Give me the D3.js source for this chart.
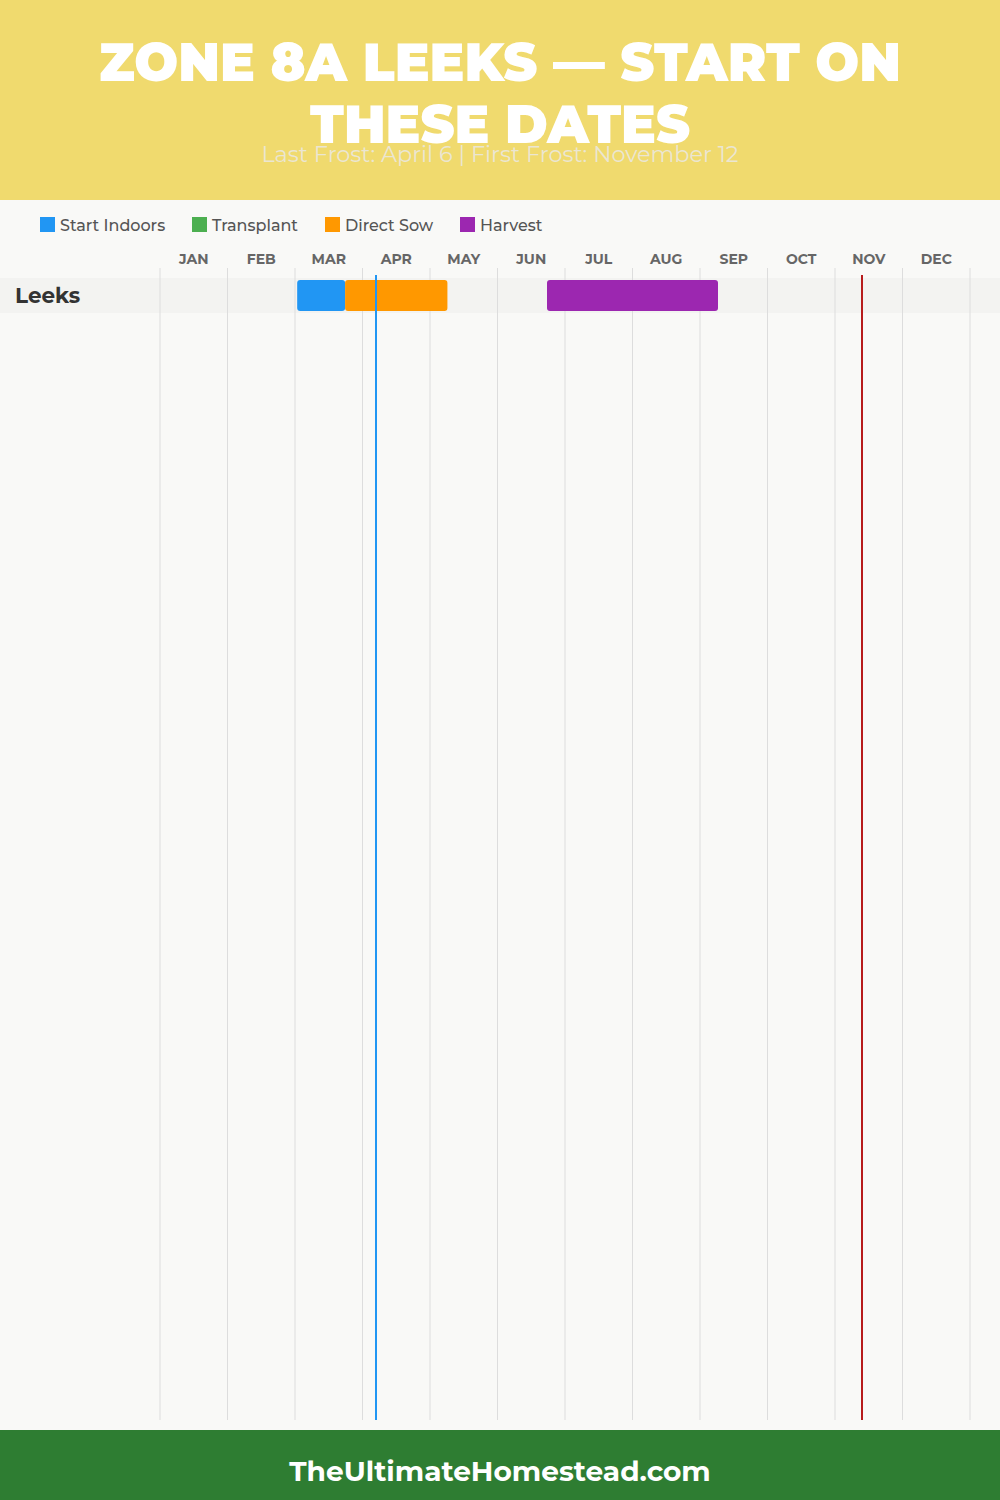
<!DOCTYPE html>
<html><head><meta charset="utf-8">
<script src="https://cdn.jsdelivr.net/npm/d3@7"></script>
<style>body{margin:0;background:#f9f9f7;}svg{display:block;font-family:"Montserrat","Open Sans","Noto Sans",sans-serif;}</style>
</head><body><div id="chart"></div>
<script>
const titleLines = ["ZONE 8A LEEKS — START ON", "THESE DATES"];
const subtitle = "Last Frost: April 6 | First Frost: November 12";
const footer = "TheUltimateHomestead.com";
const months = ["JAN","FEB","MAR","APR","MAY","JUN","JUL","AUG","SEP","OCT","NOV","DEC"];
const legendItems = ["Start Indoors","Transplant","Direct Sow","Harvest"];
const legendColors = ["#2196f3","#4caf50","#ff9800","#9c27b0"];
const crops = ["Leeks"];
// [crop, phase, startMonth(0-based), startDay, endMonth, endDay]
const tasks = [
  ["Leeks","Start Indoors",2,1,2,23],
  ["Leeks","Direct Sow",2,23,4,8],
  ["Leeks","Harvest",5,22,8,8]
];
const frostDates = [{label:"Last Frost",m:3,d:6,color:"#2196f3"},{label:"First Frost",m:10,d:12,color:"#b71c1c"}];

const W=1000,H=1500;
const svg=d3.select("#chart").append("svg").attr("width",W).attr("height",H);
svg.append("rect").attr("width",W).attr("height",H).attr("fill","#f9f9f7");
svg.append("rect").attr("width",W).attr("height",200).attr("fill","#f0da6e");
svg.append("rect").attr("y",1430).attr("width",W).attr("height",70).attr("fill","#2e7d32");

const dim=[31,28,31,30,31,30,31,31,30,31,30,31];
const frac=(m,d)=>m+d/dim[m];
const x=d3.scaleLinear().domain([0,12]).range([160,970]);
const y=d3.scaleBand().domain(crops).range([278,313]);
const color=d3.scaleOrdinal().domain(legendItems).range(legendColors);

// title
svg.selectAll("text.title").data(titleLines).join("text").attr("class","title")
  .attr("x",W/2).attr("y",(d,i)=>81+i*62).attr("text-anchor","middle")
  .attr("fill","#fff").attr("font-size",54).attr("font-weight",900)
  .attr("textLength",(d,i)=>i===0?802:380).attr("lengthAdjust","spacingAndGlyphs")
  .text(d=>d);
svg.append("text").attr("x",W/2).attr("y",162).attr("text-anchor","middle")
  .attr("fill","#ebe6d2").attr("font-size",22.4).text(subtitle);

// legend
const lx=[40,192,325,460];
const lg=svg.selectAll("g.leg").data(legendItems).join("g").attr("class","leg")
  .attr("transform",(d,i)=>`translate(${lx[i]},217)`);
lg.append("rect").attr("width",15).attr("height",15).attr("fill",d=>color(d));
lg.append("text").attr("x",20).attr("y",13.5).attr("font-size",16).attr("font-weight",500).attr("fill","#555").text(d=>d);

// row band
svg.selectAll("rect.band").data(crops).join("rect").attr("class","band")
  .attr("x",0).attr("width",W).attr("y",d=>y(d)).attr("height",y.bandwidth()).attr("fill","#f3f3f1");

// grid
svg.selectAll("line.grid").data(d3.range(0,13)).join("line").attr("class","grid")
  .attr("x1",d=>x(d)).attr("x2",d=>x(d)).attr("y1",268).attr("y2",1420)
  .attr("stroke","#dddddd").attr("stroke-width",1);

// month labels
svg.selectAll("text.month").data(months).join("text").attr("class","month")
  .attr("x",(d,i)=>x(i+0.5)).attr("y",264).attr("text-anchor","middle")
  .attr("font-size",14).attr("font-weight",700).attr("fill","#666").text(d=>d);

// row labels
svg.selectAll("text.crop").data(crops).join("text").attr("class","crop")
  .attr("x",15).attr("y",d=>y(d)+y.bandwidth()/2+7.5).attr("font-size",21.5).attr("font-weight",700)
  .attr("fill","#333").text(d=>d);

// bars
svg.selectAll("rect.bar").data(tasks).join("rect").attr("class","bar")
  .attr("x",d=>x(frac(d[2],d[3]))).attr("width",d=>x(frac(d[4],d[5]))-x(frac(d[2],d[3])))
  .attr("y",d=>y(d[0])+2).attr("height",y.bandwidth()-4).attr("rx",3)
  .attr("fill",d=>color(d[1]));

// frost lines
svg.selectAll("line.frost").data(frostDates).join("line").attr("class","frost")
  .attr("x1",d=>x(frac(d.m,d.d))).attr("x2",d=>x(frac(d.m,d.d))).attr("y1",275).attr("y2",1420)
  .attr("stroke",d=>d.color).attr("stroke-width",2);

svg.append("text").attr("x",W/2).attr("y",1481).attr("text-anchor","middle")
  .attr("fill","#fff").attr("font-size",28).attr("font-weight",700).text(footer);
</script></body></html>
